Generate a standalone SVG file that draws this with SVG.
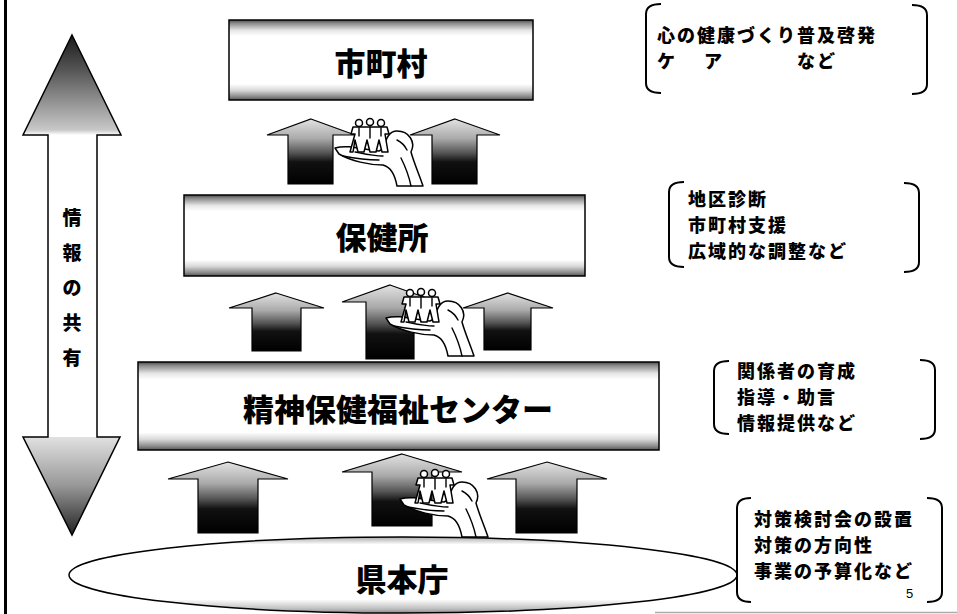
<svg xmlns="http://www.w3.org/2000/svg" xmlns:xlink="http://www.w3.org/1999/xlink" width="957" height="614" viewBox="0 0 957 614">
  <defs>
    <style>
      .box { stroke: #000; stroke-width: 1.5; fill: url(#boxGrad); }
      .title { font-family: "Noto Sans CJK JP", "Noto Sans", sans-serif; font-weight: 900; font-size: 31px; fill: #000; text-anchor: middle; }
      .note { font-family: "Noto Sans CJK JP", "Noto Sans", sans-serif; font-weight: 900; font-size: 18px; letter-spacing: 2px; fill: #000; }
      .vtext { font-family: "Noto Sans CJK JP", "Noto Sans", sans-serif; font-weight: 900; font-size: 19px; fill: #000; text-anchor: middle; }
      .bracket { fill: none; stroke: #000; stroke-width: 2; }
      .uparrow { fill: url(#arrowGrad); stroke: #000; stroke-width: 1.2; }
      .line { fill: none; stroke: #000; stroke-width: 1.4; stroke-linecap: round; stroke-linejoin: round; }
      .hand { fill: #fff; stroke: #000; stroke-width: 1.5; stroke-linejoin: round; }
    </style>
    <linearGradient id="boxGrad" x1="0" y1="0" x2="0" y2="1">
      <stop offset="0" stop-color="#4a4a4a"/>
      <stop offset="0.04" stop-color="#8a8a8a"/>
      <stop offset="0.13" stop-color="#e6e6e6"/>
      <stop offset="0.2" stop-color="#fff"/>
      <stop offset="0.8" stop-color="#fff"/>
      <stop offset="0.88" stop-color="#d8d8d8"/>
      <stop offset="0.96" stop-color="#888"/>
      <stop offset="1" stop-color="#555"/>
    </linearGradient>
    <linearGradient id="ellGrad" x1="0" y1="0" x2="0" y2="1">
      <stop offset="0" stop-color="#aaa"/>
      <stop offset="0.1" stop-color="#fff"/>
      <stop offset="0.82" stop-color="#fff"/>
      <stop offset="0.95" stop-color="#bbb"/>
      <stop offset="1" stop-color="#888"/>
    </linearGradient>
    <linearGradient id="arrowGrad" x1="0" y1="0" x2="0" y2="1">
      <stop offset="0" stop-color="#e2e2e2"/>
      <stop offset="0.3" stop-color="#aaa"/>
      <stop offset="0.52" stop-color="#555"/>
      <stop offset="0.66" stop-color="#111"/>
      <stop offset="1" stop-color="#000"/>
    </linearGradient>
    <linearGradient id="shareGrad" gradientUnits="userSpaceOnUse" x1="0" y1="35" x2="0" y2="535">
      <stop offset="0" stop-color="#1a1a1a"/>
      <stop offset="0.07" stop-color="#555"/>
      <stop offset="0.19" stop-color="#c8c8c8"/>
      <stop offset="0.2" stop-color="#fff"/>
      <stop offset="0.803" stop-color="#fff"/>
      <stop offset="0.805" stop-color="#e0e0e0"/>
      <stop offset="0.9" stop-color="#999"/>
      <stop offset="1" stop-color="#222"/>
    </linearGradient>
    <!-- open hand holding three paper figures -->
    <g id="handIcon">
      <path class="hand" d="M0,30 C14,26 28,32 44,33 L50,30 C50,20 55,13 62,13 C74,13 81,24 76,34 C79,45 84,56 88,68 L62,68 C60,57 56,49 48,47 C34,47 16,43 4,36 Z"/>
      <path class="line" d="M8,38 C18,40 30,42 44,42"/>
      <path class="line" d="M20,34 C30,36 38,38 48,38"/>
      <path class="line" d="M66,40 C70,48 74,58 76,68"/>
      <path class="line" d="M62,22 C66,24 70,28 72,32"/>
      <!-- figures -->
      <path class="hand" d="M18,9 L52,9 L54,16 L50,16 L53,34 L47,34 L44,22 L41,34 L35,34 L32,22 L29,34 L23,34 L20,22 L18,34 L15,34 L20,16 L16,16 Z"/>
      <circle class="hand" cx="24" cy="5" r="3.5"/>
      <circle class="hand" cx="35" cy="4" r="3.5"/>
      <circle class="hand" cx="46" cy="5" r="3.5"/>
      <path class="line" d="M35,9 L35,20 M24,10 L24,18 M46,10 L46,18"/>
    </g>
  </defs>

  <rect x="0" y="0" width="957" height="614" fill="#fff"/>

  <!-- page frame -->
  <line x1="5.5" y1="0" x2="5.5" y2="614" stroke="#000" stroke-width="3"/>
  <line x1="655" y1="612.5" x2="957" y2="612.5" stroke="#aaa" stroke-width="1.5"/>

  <!-- information sharing double arrow -->
  <g id="info-share">
    <polygon points="72,35 121,135 97,135 97,437 120,437 72,535 23,437 48,437 48,135 23,135" fill="url(#shareGrad)" stroke="#000" stroke-width="1.5"/>
    <text class="vtext" x="72" y="225">情</text>
    <text class="vtext" x="72" y="260">報</text>
    <text class="vtext" x="72" y="295">の</text>
    <text class="vtext" x="72" y="330">共</text>
    <text class="vtext" x="72" y="365">有</text>
  </g>

  <!-- upward flow arrows -->
  <g id="connectors">
    <polygon class="uparrow" points="311,119 355,135 333,135 333,184 288,184 288,135 267,135"/>
    <polygon class="uparrow" points="455,119 500,135 477,135 477,184 432,184 432,135 410,135"/>

    <polygon class="uparrow" points="276,293 324,308 301,308 301,351 252,351 252,308 229,308"/>
    <polygon class="uparrow" points="390,285 438,302 414,302 414,359 366,359 366,302 342,302"/>
    <polygon class="uparrow" points="508,293 553,308 531,308 531,350 484,350 484,308 463,308"/>

    <polygon class="uparrow" points="228,462 288,479 258,479 258,533 198,533 198,479 168,479"/>
    <polygon class="uparrow" points="402,454 462,472 432,472 432,526 372,526 372,472 342,472"/>
    <polygon class="uparrow" points="547,462 607,479 577,479 577,533 516,533 516,479 487,479"/>

    <use xlink:href="#handIcon" transform="translate(335,118)"/>
    <use xlink:href="#handIcon" transform="translate(386,288)"/>
    <use xlink:href="#handIcon" transform="translate(400,469)"/>
  </g>

  <!-- organisation levels -->
  <g id="node-shichouson">
    <rect class="box" x="229" y="20" width="304" height="80"/>
    <text class="title" x="381" y="75">市町村</text>
  </g>
  <g id="node-hokenjo">
    <rect class="box" x="184" y="195" width="401" height="81"/>
    <text class="title" x="382" y="249">保健所</text>
  </g>
  <g id="node-center">
    <rect class="box" x="138" y="362" width="521" height="88"/>
    <text class="title" x="398" y="421" font-size="30">精神保健福祉センター</text>
  </g>
  <g id="node-kenhoncho">
    <ellipse cx="403" cy="575" rx="334" ry="38" fill="url(#ellGrad)" stroke="#000" stroke-width="1.5"/>
    <text class="title" x="402" y="591">県本庁</text>
  </g>

  <!-- role notes -->
  <g id="note-shichouson">
    <path class="bracket" d="M661,4 Q646,4 646,14 L646,83 Q646,93 661,93"/>
    <path class="bracket" d="M912,5 Q927,5 927,15 L927,84 Q927,94 912,94"/>
    <text class="note" x="657" y="42">心の健康づくり普及啓発</text>
    <text class="note" y="68"><tspan x="657">ケ</tspan><tspan x="704">ア</tspan><tspan x="797">など</tspan></text>
  </g>
  <g id="note-hokenjo">
    <path class="bracket" d="M684,182 Q669,182 669,192 L669,257 Q669,267 684,267"/>
    <path class="bracket" d="M904,183 Q919,183 919,193 L919,262 Q919,272 904,272"/>
    <text class="note" x="688" y="206">地区診断</text>
    <text class="note" x="688" y="232">市町村支援</text>
    <text class="note" x="688" y="258">広域的な調整など</text>
  </g>
  <g id="note-center">
    <path class="bracket" d="M729,361 Q714,361 714,371 L714,424 Q714,434 729,434"/>
    <path class="bracket" d="M920,360 Q935,360 935,370 L935,429 Q935,439 920,439"/>
    <text class="note" x="737" y="378">関係者の育成</text>
    <text class="note" x="737" y="404">指導・助言</text>
    <text class="note" x="737" y="430">情報提供など</text>
  </g>
  <g id="note-kenhoncho">
    <path class="bracket" d="M751,498 Q737,498 737,508 L737,592 Q737,602 751,602"/>
    <path class="bracket" d="M927,498 Q942,498 942,508 L942,592 Q942,602 927,602"/>
    <text class="note" x="754" y="526">対策検討会の設置</text>
    <text class="note" x="754" y="552">対策の方向性</text>
    <text class="note" x="754" y="578">事業の予算化など</text>
    <text x="906" y="598" font-family="Liberation Sans, Arial, sans-serif" font-size="13" fill="#000">5</text>
  </g>
</svg>
